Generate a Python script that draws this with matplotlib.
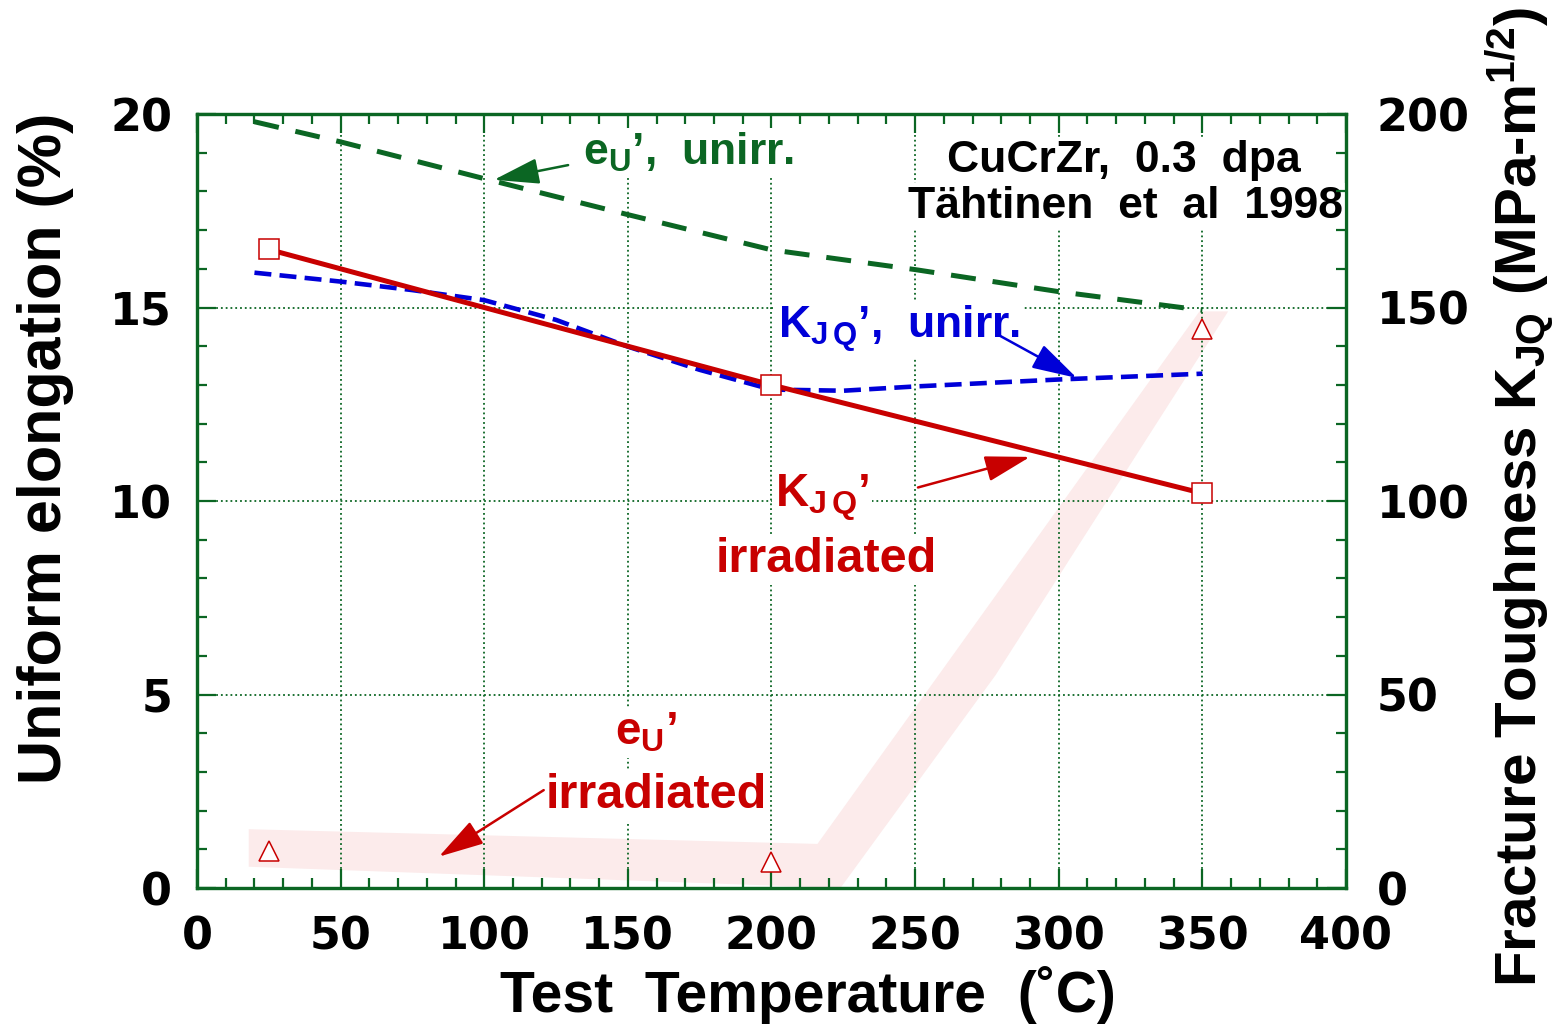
import numpy as np
from matplotlib import pyplot as plt
from matplotlib.patches import Polygon
from matplotlib.ticker import MultipleLocator

plt.rcParams['font.family'] = 'Liberation Sans'
plt.rcParams['font.weight'] = 'bold'
plt.rcParams['axes.labelweight'] = 'bold'
plt.rcParams['mathtext.fontset'] = 'custom'
plt.rcParams['mathtext.rm'] = 'Liberation Sans:bold'
plt.rcParams['mathtext.it'] = 'Liberation Sans:bold'
plt.rcParams['mathtext.bf'] = 'Liberation Sans:bold'
plt.rcParams['mathtext.default'] = 'rm'

"""Data"""
# uniform elongation, unirradiated (%)
eu_unirr_T = [20, 50, 100, 150, 200, 250, 300, 350]
eu_unirr = [19.8, 19.28, 18.33, 17.40, 16.49, 15.98, 15.41, 14.93]

# fracture toughness, unirradiated (MPa-m^1/2)
kjq_unirr_T = [20, 50, 75, 100, 125, 150, 175, 200, 225, 250, 300, 350]
kjq_unirr = [159, 156.7, 154.5, 151.9, 146.8, 139.9, 133.9, 128.8, 128.5, 129.6, 131.4, 132.9]

# fracture toughness, irradiated
kjq_irr_T = [25, 200, 350]
kjq_irr = [165, 130, 102]

# uniform elongation, irradiated
eu_irr_T = [25, 200, 350]
eu_irr = [0.96, 0.68, 14.44]

# shaded trend band through the irradiated elongation
band_T = [18, 216, 349, 359, 278, 224, 18]
band_eu = [1.52, 1.14, 14.9, 14.9, 5.5, 0.0, 0.55]

green = '#0b6623'
red = '#c80000'
blue = '#0000d8'
tickfont = {'family': 'DejaVu Sans', 'weight': 'bold', 'size': 32}

fig = plt.figure(figsize=(15.66, 10.29), dpi=100)
ax = fig.add_axes([0.1258, 0.137, 0.7337, 0.7522])
ax2 = ax.twinx()

ax.add_patch(Polygon(np.column_stack([band_T, band_eu]), closed=True,
                     facecolor='#fcebeb', edgecolor='none', zorder=1))
ax.plot(eu_unirr_T, eu_unirr, color=green, lw=3.6, dashes=(5, 3.4), zorder=3)
ax.plot(eu_irr_T, eu_irr, ls='none', marker='^', ms=14, mfc='white',
        mec=red, mew=1.1, zorder=4)

ax2.plot(kjq_unirr_T, kjq_unirr, color=blue, lw=3.3, dashes=(3.7, 1.8), zorder=3)
ax2.plot(kjq_irr_T, kjq_irr, color=red, lw=3.6, zorder=3)
ax2.plot(kjq_irr_T, kjq_irr, ls='none', marker='s', ms=14, mfc='white',
         mec=red, mew=1.1, zorder=4)

ax.set_xlim(0, 400)
ax.set_ylim(0, 20)
ax2.set_ylim(0, 200)
ax.xaxis.set_major_locator(MultipleLocator(50))
ax.xaxis.set_minor_locator(MultipleLocator(10))
ax.yaxis.set_major_locator(MultipleLocator(5))
ax.yaxis.set_minor_locator(MultipleLocator(1))
ax2.yaxis.set_major_locator(MultipleLocator(50))
ax2.yaxis.set_minor_locator(MultipleLocator(10))

ax.grid(True, which='major', color=green, ls=':', lw=1.3)
for a in (ax, ax2):
    for s in a.spines.values():
        s.set_color(green)
        s.set_linewidth(2.3)
ax.tick_params(which='both', direction='in', top=True, right=False,
               color=green, width=1.6)
ax.tick_params(which='major', length=14, pad=18)
ax.tick_params(which='minor', length=7)
ax.tick_params(axis='x', which='major', pad=20)
ax2.tick_params(which='both', direction='in', color=green, width=1.6)
ax2.tick_params(which='major', length=14, pad=22)
ax2.tick_params(which='minor', length=7)
ax2.set_axisbelow(False)
for lab in ax.get_xticklabels() + ax.get_yticklabels() + ax2.get_yticklabels():
    lab.set_fontproperties(tickfont)

ax.set_xlabel('Test  Temperature  (˚C)', fontsize=41, va='center', ha='center')
ax.xaxis.set_label_coords(0.532, -0.138)
ax.set_ylabel('Uniform elongation (%)', fontsize=44, va='center', ha='center')
ax.yaxis.set_label_coords(-0.132, 0.568)
ax2.set_ylabel(r'Fracture Toughness K$_{\mathrm{JQ}}$ (MPa-m$^{\mathrm{1/2}}$)',
               fontsize=42, va='center', ha='center')
ax2.yaxis.set_label_coords(1.151, 0.505)

box = dict(facecolor='white', edgecolor='none', pad=2)


def label(x, y, s, color, ha='left', size=32):
    ax2.text(x, y * 10, s, color=color, fontsize=size, ha=ha, va='baseline',
             bbox=box, zorder=2.2)


def arrow(tip, start, color):
    ax2.annotate('', xy=(tip[0], tip[1] * 10), xytext=(start[0], start[1] * 10),
                 arrowprops=dict(arrowstyle='-|>,head_length=1.4,head_width=0.4',
                                 color=color, lw=1.8, shrinkA=0, shrinkB=0,
                                 mutation_scale=20), zorder=2.3)


label(134.4, 18.68, r"e$_{\mathrm{U}}$’,  unirr.", green)
arrow((103.4, 18.3), (129.2, 18.68), green)

label(202.3, 14.21, r"K$_{\mathrm{J\,Q}}$’,  unirr.", blue)
arrow((306.3, 13.18), (278.3, 14.32), blue)

label(201.2, 9.82, r"K$_{\mathrm{J\,Q}}$’", red, size=33)
label(219.0, 8.17, 'irradiated', red, ha='center', size=35)
arrow((290, 11.14), (251, 10.35), red)

label(145.5, 3.70, r"e$_{\mathrm{U}}$’", red, size=33)
label(159.8, 2.07, 'irradiated', red, ha='center', size=35)
arrow((84.2, 0.81), (120.7, 2.53), red)

label(322.7, 18.5, 'CuCrZr,  0.3  dpa', 'black', ha='center')
label(323.4, 17.31, 'Tähtinen  et  al  1998', 'black', ha='center')

plt.savefig('out.png', dpi=100)
